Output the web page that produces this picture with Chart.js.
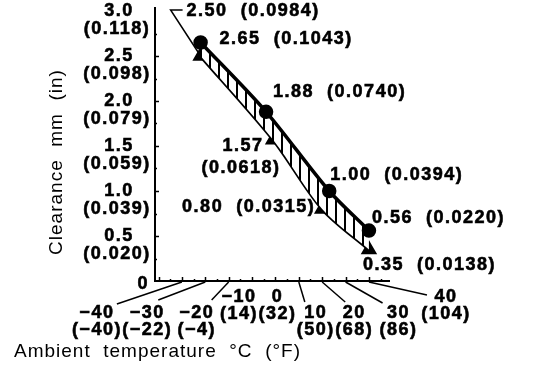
<!DOCTYPE html>
<html>
<head>
<meta charset="utf-8">
<script src="https://cdn.jsdelivr.net/npm/chart.js@4/dist/chart.umd.min.js"></script>
<style>
    body { margin: 0; background: #fff; }
    canvas { display: block; }
</style>
</head>
<body>
<canvas id="myChart" width="544" height="378"></canvas>
<script>
// Clearance values (mm), with the inch value shown next to each
var upperTemp = [-32, -4, 23, 40];
var upperMm = [2.65, 1.88, 1.00, 0.56];
var upperIn = ['0.1043', '0.0740', '0.0394', '0.0220'];

var lowerTemp = [-32, -1, 20, 40];
var lowerMm = [2.50, 1.57, 0.80, 0.35];
var lowerIn = ['0.0984', '0.0618', '0.0315', '0.0138'];

// Axis ticks
var yTickValues = [0, 0.5, 1.0, 1.5, 2.0, 2.5, 3.0];
var yTickMm = ['0', '0.5', '1.0', '1.5', '2.0', '2.5', '3.0'];
var yTickIn = ['', '(0.020)', '(0.039)', '(0.059)', '(0.079)', '(0.098)', '(0.118)'];

var xTickValues = [-40, -30, -20, -10, 0, 10, 20, 30, 40];
var xTickC = ['\u221240', '\u221230', '\u221220', '\u221210', '0', '10', '20', '30', '40'];
var xTickF = ['(\u221240)', '(\u221222)', '(\u22124)', '(14)', '(32)', '(50)', '(68)', '(86)', '(104)'];

var xTitle = 'Ambient  temperature  \u00b0C  (\u00b0F)';
var yTitle = 'Clearance  mm  (in)';

// where each x tick label sits relative to its tick: dx, text row, leader end (null = no leader)
var xLabelLayout = [
    {dx: -85, row: 1, lead: [-65, 23]},
    {dx: -58, row: 1, lead: [-47, 19]},
    {dx: -32, row: 1, lead: [-17, 19]},
    {dx: -13, row: 0, lead: null},
    {dx: 2, row: 0, lead: null},
    {dx: 17, row: 1, lead: [6, 21]},
    {dx: 32, row: 1, lead: [23, 21]},
    {dx: 53, row: 1, lead: [37, 22]},
    {dx: 77, row: 0, lead: [58, 14]}
];

// offsets of the value labels from their points
var upperLabelLayout = [
    {dx: 19, dy: -3, align: 'left'},
    {dx: 7, dy: -20, align: 'left'},
    {dx: 1, dy: -16, align: 'left'},
    {dx: 3, dy: -13, align: 'left'}
];
var lowerLabelLayout = [
    {dx: -14, dy: -45, align: 'left'},
    {dx: -32, dy: 6, align: 'center', split: true},
    {dx: -7, dy: -2, align: 'right'},
    {dx: -6, dy: 16, align: 'left'}
];

var numFont = 'bold 18px "Liberation Sans"';
var numSpacing = '1.5px';
var titleFont = '19px "Liberation Sans"';
var titleSpacing = '1px';

function toPoints(xs, ys) {
    var pts = [];
    for (var i = 0; i < xs.length; i++) {
        pts.push({x: xs[i], y: ys[i]});
    }
    return pts;
}

function makeHatch() {
    // short upright strokes, used to fill the band between the two lines
    var c = document.createElement('canvas');
    c.width = 9;
    c.height = 9;
    var g = c.getContext('2d');
    g.fillStyle = '#fff';
    g.fillRect(0, 0, 9, 9);
    g.fillStyle = '#000';
    g.fillRect(2, 0, 2, 9);
    return g.createPattern(c, 'repeat');
}

// bold numbers in the source are heavier, so they get a thin outline too
function heavyText(c, text, x, y) {
    c.fillText(text, x, y);
    c.strokeText(text, x, y);
}

var ctx = document.getElementById('myChart').getContext('2d');

var drawAxes = {
    id: 'drawAxes',
    afterDraw: function(chart) {
        var c = chart.ctx;
        var xs = chart.scales.x;
        var ys = chart.scales.y;
        var area = chart.chartArea;
        var y0 = ys.getPixelForValue(0);
        var i, px, py;

        c.save();
        c.strokeStyle = '#000';
        c.fillStyle = '#000';
        c.lineWidth = 2;

        // axis lines
        c.beginPath();
        c.moveTo(area.left, area.top - 4);
        c.lineTo(area.left, y0);
        c.lineTo(area.right, y0);
        c.stroke();

        // y ticks, pointing inward
        c.lineWidth = 1.5;
        for (var v = 0.25; v < 3.0; v += 0.25) {
            py = Math.round(ys.getPixelForValue(v)) + 0.5;
            var len = (Math.round(v * 4) % 2 === 0) ? 4 : 2;
            c.beginPath();
            c.moveTo(area.left, py);
            c.lineTo(area.left + len, py);
            c.stroke();
        }
        // x ticks, pointing up
        for (var t = -50; t <= 45; t += 5) {
            px = Math.round(xs.getPixelForValue(t)) + 0.5;
            var xl = (t % 10 === 0) ? 4 : 2;
            c.beginPath();
            c.moveTo(px, y0);
            c.lineTo(px, y0 - xl);
            c.stroke();
        }

        // x tick leader lines
        for (i = 0; i < xTickValues.length; i++) {
            var ld = xLabelLayout[i].lead;
            if (ld) {
                px = xs.getPixelForValue(xTickValues[i]);
                c.beginPath();
                c.moveTo(px, y0 + 1);
                c.lineTo(px + ld[0], y0 + ld[1]);
                c.stroke();
            }
        }

        // leader from the top label down to the first triangle
        var metas = [chart.getDatasetMeta(0), chart.getDatasetMeta(1)];
        var first = metas[1].data[0];
        c.beginPath();
        c.moveTo(first.x, first.y);
        c.lineTo(first.x - 30, first.y - 46);
        c.lineTo(first.x - 18, first.y - 46);
        c.stroke();

        // y tick labels: mm on the tick, inch value under it
        c.font = numFont;
        c.letterSpacing = numSpacing;
        c.textBaseline = 'middle';
        c.lineWidth = 0.6;
        for (i = 0; i < yTickValues.length; i++) {
            py = ys.getPixelForValue(yTickValues[i]);
            if (yTickIn[i] === '') {
                c.textAlign = 'right';
                heavyText(c, yTickMm[i], area.left - 6, py + 3);
            } else {
                c.textAlign = 'center';
                heavyText(c, yTickMm[i], area.left - 36, py);
                heavyText(c, yTickIn[i], area.left - 38, py + 18);
            }
        }

        // x tick labels
        for (i = 0; i < xTickValues.length; i++) {
            px = xs.getPixelForValue(xTickValues[i]);
            var lay = xLabelLayout[i];
            var rowY = y0 + (lay.row === 0 ? 16 : 32);
            c.textAlign = 'center';
            heavyText(c, xTickC[i], px + lay.dx, rowY);
            heavyText(c, xTickF[i], px + lay.dx, rowY + 17);
        }

        // value labels next to the points
        var mmSets = [upperMm, lowerMm];
        var inSets = [upperIn, lowerIn];
        var layouts = [upperLabelLayout, lowerLabelLayout];
        for (var s = 0; s < 2; s++) {
            for (i = 0; i < mmSets[s].length; i++) {
                var el = metas[s].data[i];
                var l = layouts[s][i];
                var mmText = mmSets[s][i].toFixed(2);
                var inText = '(' + inSets[s][i] + ')';
                c.textAlign = l.align;
                if (l.split) {
                    heavyText(c, mmText, el.x + l.dx + 2, el.y + l.dy);
                    heavyText(c, inText, el.x + l.dx, el.y + l.dy + 22);
                } else {
                    heavyText(c, mmText + '  ' + inText, el.x + l.dx, el.y + l.dy);
                }
            }
        }

        // axis titles
        c.font = titleFont;
        c.letterSpacing = titleSpacing;
        c.textAlign = 'left';
        c.fillText(xTitle, 14, 352);
        c.save();
        c.translate(57, 162);
        c.rotate(-Math.PI / 2);
        c.textAlign = 'center';
        c.fillText(yTitle, 0, 0);
        c.restore();

        c.restore();
    }
};

var myChart = new Chart(ctx, {
    type: 'line',
    data: {
        datasets: [{
            label: 'upper',
            data: toPoints(upperTemp, upperMm),
            borderColor: '#000',
            borderWidth: 3.5,
            backgroundColor: makeHatch(),
            fill: '+1',
            tension: 0.3,
            pointStyle: 'circle',
            pointRadius: 5.5,
            pointBackgroundColor: '#000',
            pointBorderColor: '#000'
        }, {
            label: 'lower',
            data: toPoints(lowerTemp, lowerMm),
            borderColor: '#000',
            borderWidth: 3.5,
            fill: false,
            tension: 0.3,
            pointStyle: 'triangle',
            pointRadius: 6,
            pointBackgroundColor: '#000',
            pointBorderColor: '#000'
        }]
    },
    options: {
        responsive: false,
        animation: false,
        devicePixelRatio: 1,
        layout: {
            padding: {left: 155, top: 11, right: 154, bottom: 97}
        },
        scales: {
            x: {type: 'linear', min: -51.5, max: 49, display: false},
            y: {type: 'linear', min: 0, max: 3, display: false}
        },
        plugins: {
            legend: {display: false},
            tooltip: {enabled: false},
            filler: {propagate: false}
        }
    },
    plugins: [drawAxes]
});
</script>
</body>
</html>
